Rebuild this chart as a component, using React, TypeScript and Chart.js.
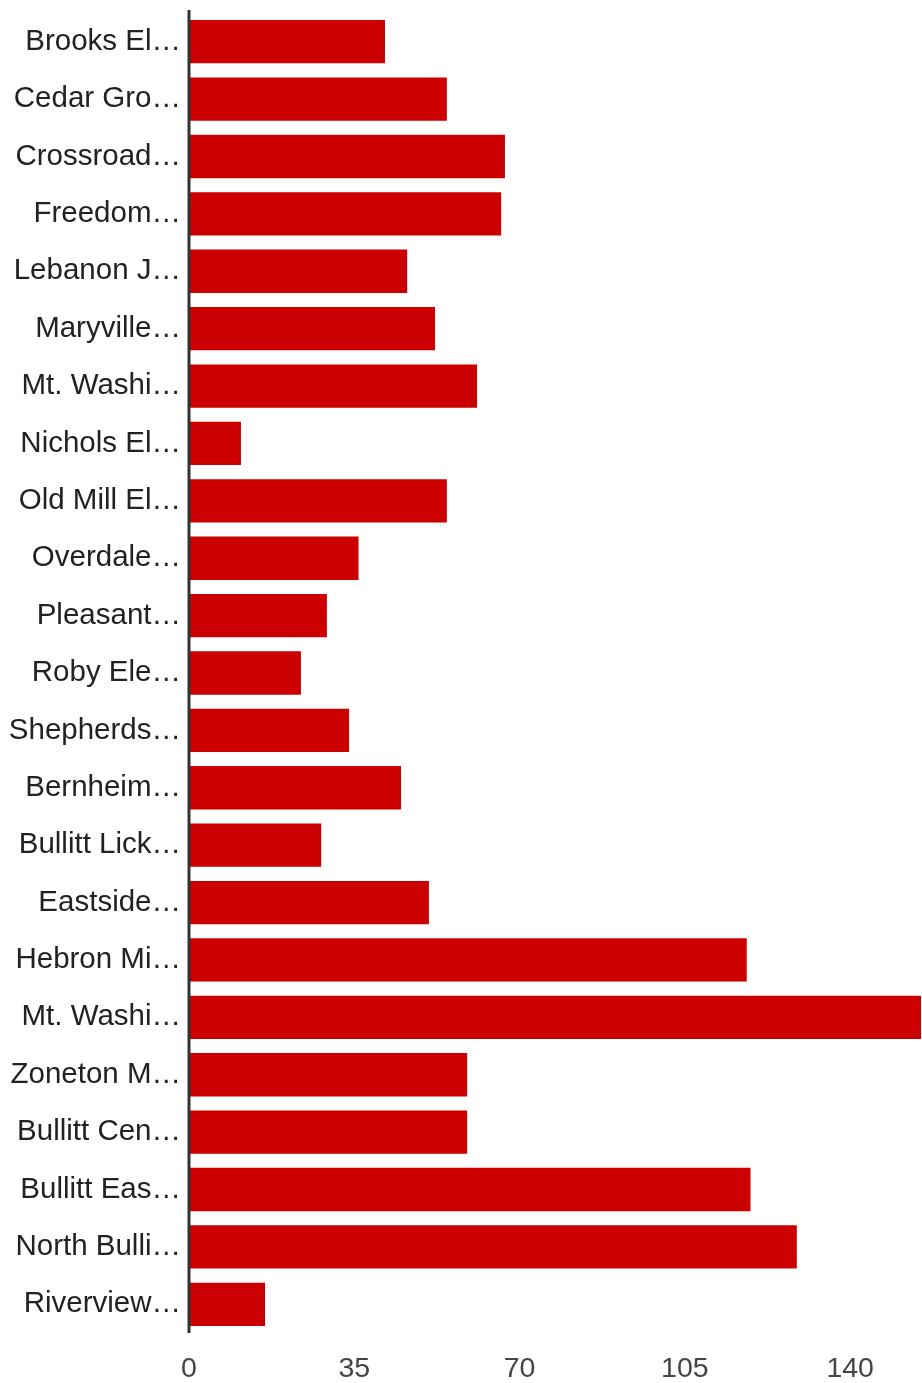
import React, { useEffect, useRef } from "react";
import { Chart, registerables } from "chart.js";

Chart.register(...registerables);

const CATEGORIES: string[] = [
  "Brooks El…",
  "Cedar Gro…",
  "Crossroad…",
  "Freedom…",
  "Lebanon J…",
  "Maryville…",
  "Mt. Washi…",
  "Nichols El…",
  "Old Mill El…",
  "Overdale…",
  "Pleasant…",
  "Roby Ele…",
  "Shepherds…",
  "Bernheim…",
  "Bullitt Lick…",
  "Eastside…",
  "Hebron Mi…",
  "Mt. Washi…",
  "Zoneton M…",
  "Bullitt Cen…",
  "Bullitt Eas…",
  "North Bulli…",
  "Riverview…",
];

const VALUES: number[] = [
  41.5, 54.6, 66.9, 66.1, 46.2, 52.1, 61.0, 11.0, 54.6, 35.9, 29.2, 23.7,
  33.9, 44.9, 28.0, 50.8, 118.1, 155, 58.9, 58.9, 118.9, 128.7, 16.1,
];

const X_TICKS: number[] = [0, 35, 70, 105, 140];

const FONT = "Arial, 'Liberation Sans', sans-serif";

const baselinePlugin = {
  id: "baseline",
  afterDatasetsDraw(chart: any) {
    const { ctx, chartArea, scales } = chart;
    const x = scales.x.getPixelForValue(0);
    ctx.save();
    ctx.strokeStyle = "#333333";
    ctx.lineWidth = 3;
    ctx.beginPath();
    ctx.moveTo(x, chartArea.top - 3);
    ctx.lineTo(x, chartArea.bottom);
    ctx.stroke();
    ctx.restore();
  },
};

export default function App() {
  const ref = useRef<HTMLCanvasElement | null>(null);

  useEffect(() => {
    if (!ref.current) return;
    const chart = new Chart(ref.current, {
      type: "bar",
      data: {
        labels: CATEGORIES,
        datasets: [
          {
            data: VALUES,
            backgroundColor: "#cc0000",
            borderWidth: 0,
            barPercentage: 0.755,
            categoryPercentage: 1,
          },
        ],
      },
      plugins: [baselinePlugin],
      options: {
        indexAxis: "y",
        animation: false,
        responsive: true,
        maintainAspectRatio: false,
        layout: { padding: { top: 13, right: 1, bottom: 0, left: 0 } },
        plugins: {
          legend: { display: false },
          tooltip: { enabled: false },
          title: { display: false },
        },
        scales: {
          x: {
            type: "linear",
            min: 0,
            max: Math.max(...VALUES),
            afterBuildTicks: (scale: any) => {
              scale.ticks = X_TICKS.map((v) => ({ value: v }));
            },
            afterFit: (scale: any) => {
              scale.height = 50;
            },
            grid: { display: false, drawTicks: false },
            border: { display: false },
            ticks: {
              color: "#444444",
              font: { family: FONT, size: 28.5 },
              padding: 19,
              maxRotation: 0,
              autoSkip: false,
            },
          },
          y: {
            afterFit: (scale: any) => {
              scale.width = 189;
              scale.paddingTop = 0;
              scale.paddingBottom = 0;
            },
            grid: { display: false, drawTicks: false },
            border: { display: false },
            ticks: {
              color: "#222222",
              font: { family: FONT, size: 29.5, lineHeight: 0.6 },
              padding: 8,
              autoSkip: false,
            },
          },
        },
      },
    });
    return () => chart.destroy();
  }, []);

  return (
    <div
      style={{
        position: "absolute",
        left: 0,
        top: 0,
        width: 922,
        height: 1383,
        background: "#ffffff",
      }}
    >
      <canvas ref={ref} />
    </div>
  );
}
